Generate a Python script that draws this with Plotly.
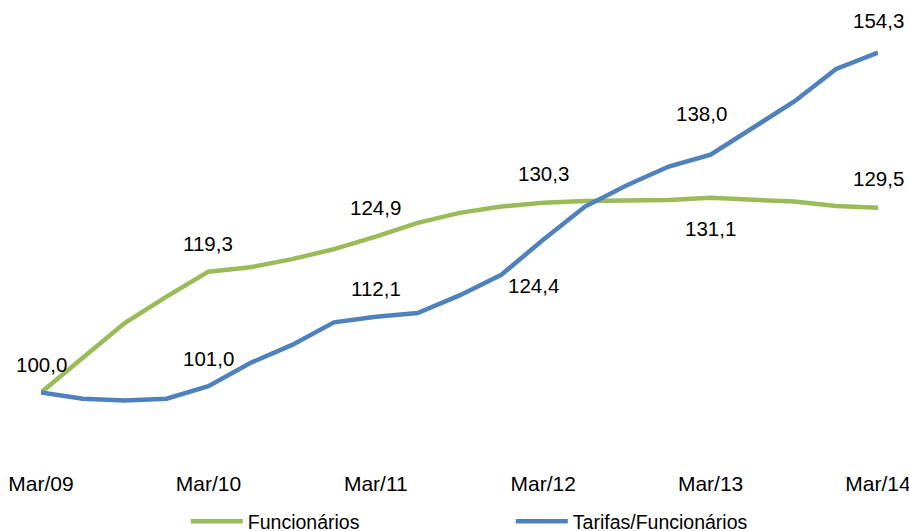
import plotly.graph_objects as go

quarters = ["Mar/09", "Jun/09", "Set/09", "Dez/09",
            "Mar/10", "Jun/10", "Set/10", "Dez/10",
            "Mar/11", "Jun/11", "Set/11", "Dez/11",
            "Mar/12", "Jun/12", "Set/12", "Dez/12",
            "Mar/13", "Jun/13", "Set/13", "Dez/13",
            "Mar/14"]
tick_labels = ["Mar/09", "Mar/10", "Mar/11", "Mar/12", "Mar/13", "Mar/14"]

funcionarios = [100.0, 105.5, 111.1, 115.3,
                119.3, 120.0, 121.3, 122.9,
                124.9, 127.1, 128.7, 129.7,
                130.3, 130.6, 130.75, 130.75,
                131.1, 130.8, 130.5, 129.8,
                129.5]
tarifas_func = [100.0, 99.0, 98.7, 99.0,
                101.0, 104.7, 107.6, 111.2,
                112.1, 112.7, 115.5, 118.8,
                124.4, 129.7, 133.1, 136.1,
                138.0, 142.3, 146.5, 151.7,
                154.3]

GREEN = "#9BBB59"
BLUE = "#4F81BD"
FONT = "Liberation Sans, Arial, sans-serif"

x_idx = list(range(len(quarters)))
tick_idx = [quarters.index(t) for t in tick_labels]

fig = go.Figure()
fig.add_trace(go.Scatter(x=x_idx, y=funcionarios, mode="lines", name="Funcionários",
                         line=dict(color=GREEN, width=4.5)))
fig.add_trace(go.Scatter(x=x_idx, y=tarifas_func, mode="lines", name="Tarifas/Funcionários",
                         line=dict(color=BLUE, width=4.5)))

# data labels: (series, quarter, pixel shifts)
label_specs = [
    (funcionarios, "Mar/09", 0, 28),
    (funcionarios, "Mar/10", 0, 28),
    (funcionarios, "Mar/11", 0, 29),
    (funcionarios, "Mar/12", 0, 29),
    (funcionarios, "Mar/13", 0, -31),
    (funcionarios, "Mar/14", 0, 29),
    (tarifas_func, "Mar/10", 0, 28),
    (tarifas_func, "Mar/11", 0, 28),
    (tarifas_func, "Mar/12", -10, -46),
    (tarifas_func, "Mar/13", -9, 41),
    (tarifas_func, "Mar/14", 0, 32),
]
for series, q, dx, dy in label_specs:
    i = quarters.index(q)
    v = series[i]
    fig.add_annotation(x=i, y=v, text=f"{v:.1f}".replace(".", ","),
                       showarrow=False, xshift=dx, yshift=dy,
                       font=dict(family=FONT, size=20.5, color="#000000"))

fig.update_layout(
    width=909, height=531,
    margin=dict(l=41, r=31, t=17, b=76, autoexpand=False),
    paper_bgcolor="white", plot_bgcolor="white",
    showlegend=True,
    legend=dict(orientation="h", x=0.173, xanchor="left", y=-0.152, yanchor="middle",
                font=dict(family=FONT, size=19.5, color="#000000"),
                entrywidth=258, itemwidth=52, tracegroupgap=0),
    font=dict(family=FONT, size=20, color="#000000"),
)
fig.update_xaxes(range=[0, 20], tickmode="array", tickvals=tick_idx, ticktext=tick_labels,
                 showgrid=False, zeroline=False, showline=False, automargin=False,
                 ticks="", ticklabelstandoff=14, ticklabeloverflow="allow",
                 tickfont=dict(family=FONT, size=21, color="#000000"))
fig.update_yaxes(range=[90, 160], visible=False, showgrid=False, zeroline=False,
                 automargin=False)

fig.write_html("out.html",
               config={"displayModeBar": False},
               post_script="document.body.style.margin='0';"
                           "document.body.style.overflow='hidden';")
